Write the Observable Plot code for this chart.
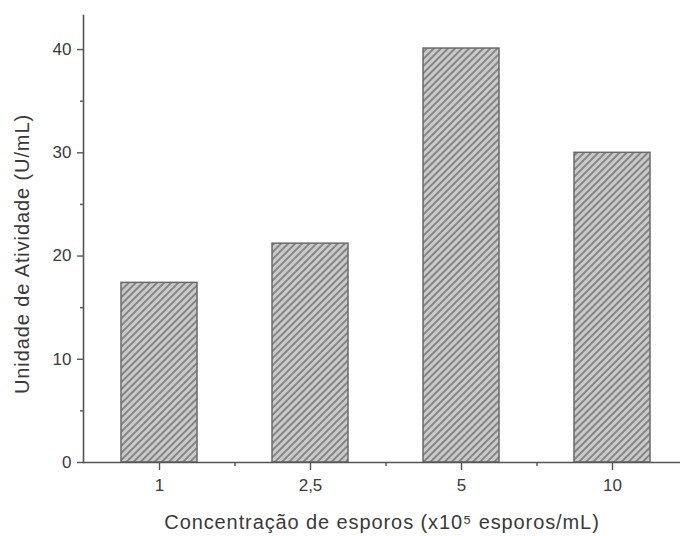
<!DOCTYPE html>
<html>
<head>
<meta charset="utf-8">
<script src="https://cdn.jsdelivr.net/npm/d3@7"></script>
<script src="https://cdn.jsdelivr.net/npm/@observablehq/plot@0.6"></script>
<style>
  html, body { margin: 0; padding: 0; background: #fff; }
  #chart svg { display: block; }
</style>
</head>
<body>
<div id="chart"></div>
<script>
// Data
const categories = ["1", "2,5", "5", "10"];
const values = [17.4, 21.2, 40.1, 30.0];
const yMajorTicks = [0, 10, 20, 30, 40];
const yMinorTicks = [5, 15, 25, 35];
const xLabel = "Concentração de esporos (x10⁵ esporos/mL)";
const yLabel = "Unidade de Atividade (U/mL)";

const data = categories.map((c, i) => ({conc: c, value: values[i]}));

const axisColor = "#555";
const textColor = "#3a3a3a";
const step = (687 - 83) / categories.length;

const plot = Plot.plot({
  width: 680,
  height: 536,
  marginLeft: 83,
  marginRight: 0,
  marginTop: 15,
  marginBottom: 74,
  style: {fontFamily: "'Liberation Sans', Arial, sans-serif", fontSize: "17px", color: textColor, background: "#fff"},
  x: {domain: categories, range: [83, 687], paddingInner: 0.5, paddingOuter: 0.25, axis: null},
  y: {domain: [0, 43.3], axis: null},
  marks: [
    Plot.barY(data, {x: "conc", y: "value", fill: "url(#hatch)", stroke: "#6a6a6a", strokeWidth: 1.5}),
    Plot.ruleY([0], {stroke: axisColor, strokeWidth: 1.6}),
    Plot.frame({anchor: "left", stroke: axisColor, strokeWidth: 1.6}),
    Plot.axisY(yMajorTicks, {tickSize: 6, tickPadding: 6, label: null, fontSize: 17, stroke: axisColor, strokeWidth: 1.4, fill: textColor}),
    Plot.axisY(yMinorTicks, {tickSize: 3, text: null, label: null, stroke: axisColor, strokeWidth: 1.4}),
    Plot.axisX(categories, {tickSize: 8, tickPadding: 8, label: null, fontSize: 17, stroke: axisColor, strokeWidth: 1.4, fill: textColor}),
    Plot.axisX(categories.slice(0, 3), {tickSize: 4, text: null, label: null, dx: step / 2, stroke: axisColor, strokeWidth: 1.4}),
    Plot.text([yLabel], {frameAnchor: "left", rotate: -90, dx: -61, dy: 15, fontSize: 20, fill: textColor, textAnchor: "middle", lineAnchor: "middle"}),
    Plot.text([xLabel], {frameAnchor: "bottom", dy: 60, fontSize: 20, fill: textColor, textAnchor: "middle", lineAnchor: "middle"})
  ]
});

const defs = d3.select(plot).insert("defs", ":first-child");
const pat = defs.append("pattern")
  .attr("id", "hatch")
  .attr("patternUnits", "userSpaceOnUse")
  .attr("width", 5)
  .attr("height", 5)
  .attr("patternTransform", "rotate(45)");
pat.append("rect").attr("width", 5).attr("height", 5).attr("fill", "#cacaca");
pat.append("rect").attr("x", 0).attr("width", 2).attr("height", 5).attr("fill", "#858585");

// slight letter spacing on axis titles to match the wide lettering of the reference
d3.select(plot).selectAll("text").filter(function() {
  const t = this.textContent;
  return t === xLabel || t === yLabel;
}).style("letter-spacing", "0.9px");

document.getElementById("chart").appendChild(plot);
</script>
</body>
</html>
